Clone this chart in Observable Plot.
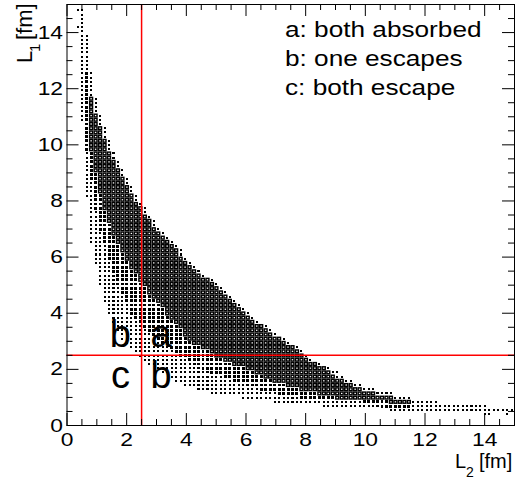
<!DOCTYPE html>
<html>
<head>
<meta charset="utf-8">
<script src="https://cdn.jsdelivr.net/npm/d3@7"></script>
<script src="https://cdn.jsdelivr.net/npm/@observablehq/plot@0.6"></script>
<style>
html, body { margin: 0; padding: 0; background: #fff; }
#chart svg { display: block; }
</style>
</head>
<body>
<div id="chart"></div>
<script>
// ---------------- data ----------------
// 2D histogram of L1 (rows) vs L2 (columns), 100 x 100 bins of 0.15 fm on [0,15].
const binWidth = 0.15;
// L1 bin index of each row that contains entries
const rowBins = d3.range(2, 99);
// first / last filled L2 bin in each row
const loBin = [93,72,57,46,39,32,29,26,24,23,21,20,18,17,16,15,14,13,12,12,11,11,10,10,9,9,9,8,8,8,8,7,7,7,7,7,6,6,6,6,6,
  5,5,5,5,5,5,5,5,5,5,5,
  4,4,4,4,4,4,4,4,4,4,4,4,4,4,4,4,4,4,
  3,3,3,3,3,3,3,3,3,3,3,3,3,3,3,3,3,3,3,3,3,3,3,3,3,3,3];
const hiBin = [94,99,93,82,76,72,68,65,63,61,60,58,56,54,53,52,51,49,48,46,45,44,42,41,40,39,38,37,36,35,34,33,32,30,29,28,27,26,25,25,24,
  23,22,21,20,19,19,18,17,17,16,15,
  15,14,14,13,13,12,12,11,11,10,10,9,9,9,8,8,8,7,
  7,7,6,6,6,6,5,5,5,5,5,5,4,4,4,4,4,4,4,4,4,3,3,3,3,3,3];
// first bin with medium-sized boxes
const midBin = [94,99,70,66,52,47,43,40,37,35,32,30,28,27,25,24,23,21,20,19,18,17,16,15,14,14,14,13,13,12,12,11,11,11,10,10,10,9,9,9,9,
  8,8,8,7,7,7,7,7,6,6,6,
  6,6,6,6,5,5,5,5,5,5,5,4,4,4,4,4,4,4,
  4,4,4,4,4,4,4,4,4,4,4,4,4,4,4,4,4,4,4,4,4,3,3,3,3,3,3];
// first / last bin with large (densely filled) boxes
const denseBin = [94,99,77,72,60,56,52,49,46,44,42,40,37,35,33,32,30,28,27,26,26,25,24,23,22,22,21,20,19,18,18,17,16,16,15,14,14,13,13,12,12,
  11,11,10,10,10,9,9,9,8,8,8,
  8,7,7,7,7,7,6,6,6,6,6,5,5,5,5,5,5,5,
  5,5,5,5,5,5,5,5,5,5,5,5,4,4,4,4,4,4,4,4,4,3,3,3,3,3,3];
const denseEndBin = [93,98,76,76,72,68,65,63,61,59,58,57,55,53,52,51,50,48,47,45,44,43,41,40,39,38,37,36,35,34,33,32,31,29,28,27,26,25,24,24,23,
  22,21,20,19,18,18,17,16,16,15,14,
  14,13,13,12,12,11,11,10,10,9,9,8,8,8,7,7,7,6,
  6,6,5,5,5,5,4,4,4,4,4,4,3,3,3,3,3,3,3,3,3,2,2,2,2,2,2];
// isolated single entries (L2 bin, L1 bin)
const extraL2Bin = [98, 2, 2];
const extraL1Bin = [2, 94, 98];

// cut lines and region labels
const cutL2 = [2.5];
const cutL1 = [2.5];
const regionText = ["b", "a", "c", "b"];
const regionL2 = [1.79, 3.15, 1.79, 3.15];
const regionL1 = [2.81, 2.81, 1.35, 1.35];

// axis ticks
const majorTicks = [0, 2, 4, 6, 8, 10, 12, 14];
const minorTicks = [0.5, 1, 1.5, 2.5, 3, 3.5, 4.5, 5, 5.5, 6.5, 7, 7.5, 8.5, 9, 9.5, 10.5, 11, 11.5, 12.5, 13, 13.5, 14.5];

const legendLines = ["a: both absorbed", "b: one escapes", "c: both escape"];

// ---------------- build cells ----------------
const cells = [];
rowBins.forEach((j, i) => {
  for (let b = loBin[i]; b <= hiBin[i]; b++) {
    let level = 1;
    if (b >= denseBin[i] && b <= denseEndBin[i]) level = 3;
    else if (b >= midBin[i] && b < denseBin[i]) level = 2;
    cells.push({x1: b * binWidth, x2: (b + 1) * binWidth, y1: j * binWidth, y2: (j + 1) * binWidth, level});
  }
});
extraL2Bin.forEach((b, k) => {
  const j = extraL1Bin[k];
  cells.push({x1: b * binWidth, x2: (b + 1) * binWidth, y1: j * binWidth, y2: (j + 1) * binWidth, level: 1});
});

// ---------------- layout ----------------
const W = 517, H = 482;
const mL = 66.5, mR = 3, mT = 4, mB = 57;
const plotW = W - mL - mR, plotH = H - mT - mB;
const FONT = "'Liberation Sans', Arial, Helvetica, sans-serif";

const rectOpts = {x1: "x1", x2: "x2", y1: "y1", y2: "y2"};

const chart = Plot.plot({
  width: W,
  height: H,
  marginLeft: mL,
  marginRight: mR,
  marginTop: mT,
  marginBottom: mB,
  style: {fontFamily: FONT, background: "white", color: "black", overflow: "visible"},
  x: {domain: [0, 15]},
  y: {domain: [0, 15]},
  marks: [
    Plot.rect(cells.filter(d => d.level === 1), {...rectOpts, shapeRendering: "crispEdges", fill: "black", insetLeft: 1.2, insetRight: 1.2, insetTop: 1.1, insetBottom: 1.1}),
    Plot.rect(cells.filter(d => d.level === 2), {...rectOpts, shapeRendering: "crispEdges", fill: "black", insetLeft: 0.75, insetRight: 0.75, insetTop: 0.65, insetBottom: 0.65}),
    Plot.rect(cells.filter(d => d.level === 3), {...rectOpts, fill: "none", stroke: "black", strokeWidth: 1.45, insetLeft: 0.8, insetRight: 0.8, insetTop: 0.75, insetBottom: 0.75}),
    Plot.ruleX(cutL2, {x: d => d, stroke: "#ff0000", strokeWidth: 1.5}),
    Plot.ruleY(cutL1, {y: d => d, stroke: "#ff0000", strokeWidth: 1.5}),
    Plot.text(regionText, {x: (d, i) => regionL2[i], y: (d, i) => regionL1[i], text: d => d, fontSize: 38, lineAnchor: "bottom", textAnchor: "middle", fill: "black"}),
    Plot.frame({stroke: "black", strokeWidth: 1}),
    // inward ticks on all four sides
    Plot.tickX(majorTicks, {x: d => d, stroke: "black", insetTop: plotH - 12}),
    Plot.tickX(minorTicks, {x: d => d, stroke: "black", insetTop: plotH - 6}),
    Plot.tickX(majorTicks, {x: d => d, stroke: "black", insetBottom: plotH - 12}),
    Plot.tickX(minorTicks, {x: d => d, stroke: "black", insetBottom: plotH - 6}),
    Plot.tickY(majorTicks, {y: d => d, stroke: "black", insetRight: plotW - 12}),
    Plot.tickY(minorTicks, {y: d => d, stroke: "black", insetRight: plotW - 6}),
    Plot.tickY(majorTicks, {y: d => d, stroke: "black", insetLeft: plotW - 12}),
    Plot.tickY(minorTicks, {y: d => d, stroke: "black", insetLeft: plotW - 6}),
    Plot.axisX({ticks: majorTicks, tickSize: 0, tickPadding: 7, fontSize: 19, label: null, tickFormat: d => String(d)}),
    Plot.axisY({ticks: majorTicks, tickSize: 0, tickPadding: 4, fontSize: 19, label: null, tickFormat: d => String(d)})
  ]
});

document.getElementById("chart").append(chart);

// widen text a little (the original font is set wider)
function stretch(el, f) {
  const len = el.getComputedTextLength();
  el.setAttribute("textLength", (len * f).toFixed(2));
  el.setAttribute("lengthAdjust", "spacingAndGlyphs");
}
chart.querySelectorAll('g[aria-label$="tick label"] text').forEach(t => stretch(t, 1.2));

const svg = d3.select(chart);

// legend text
const lg = svg.append("g").attr("font-family", FONT).attr("font-size", 22).attr("fill", "black").attr("text-anchor", "start");
legendLines.forEach((s, i) => {
  const t = lg.append("text").attr("x", 285).attr("y", 37 + 29 * i).text(s);
  stretch(t.node(), 1.19);
});

// x title: L2 [fm]
const xt = svg.append("g").attr("font-family", FONT).attr("fill", "black").attr("text-anchor", "start");
xt.append("text").attr("x", 455).attr("y", 468).attr("font-size", 20).text("L");
xt.append("text").attr("x", 466).attr("y", 477).attr("font-size", 14).text("2");
xt.append("text").attr("x", 479).attr("y", 468).attr("font-size", 20).text("[fm]");

// y title: L1 [fm] (rotated)
const yt = svg.append("g").attr("font-family", FONT).attr("fill", "black").attr("text-anchor", "start")
  .attr("transform", "translate(32,63) rotate(-90)");
yt.append("text").attr("x", 0).attr("y", 0).attr("font-size", 22).text("L");
yt.append("text").attr("x", 11).attr("y", 8).attr("font-size", 15).text("1");
yt.append("text").attr("x", 23).attr("y", 0).attr("font-size", 22).text("[fm]");
</script>
</body>
</html>
